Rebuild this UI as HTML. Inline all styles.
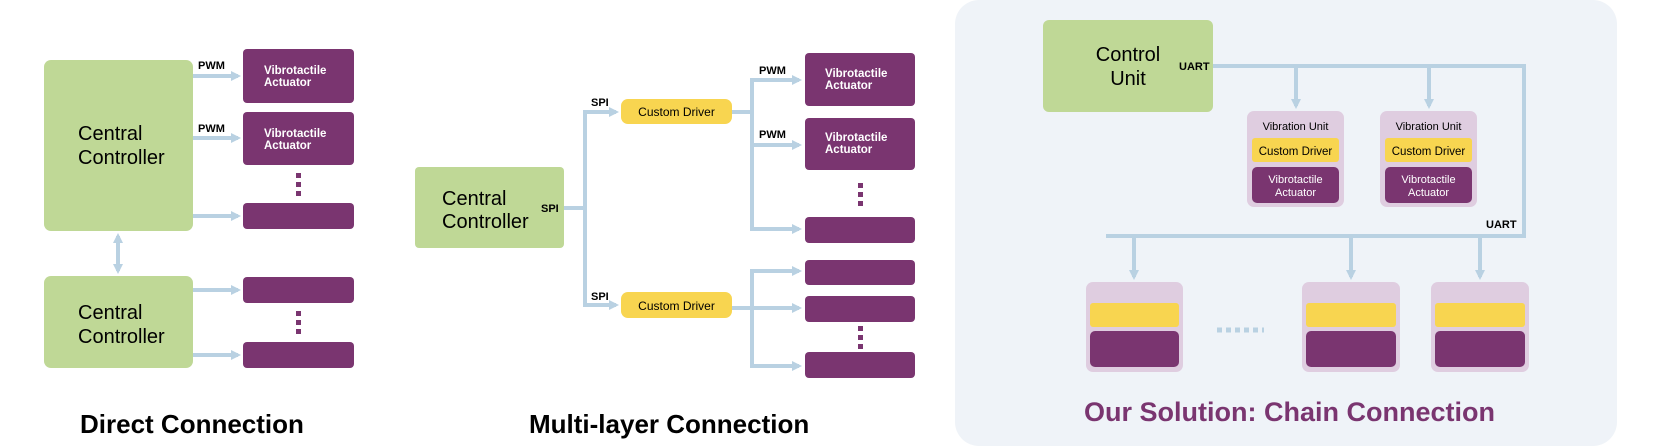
<!DOCTYPE html>
<html><head><meta charset="utf-8"><style>
html,body{margin:0;padding:0;background:#fff}
svg{display:block}
text{font-family:"Liberation Sans",sans-serif}
</style></head><body>
<svg width="1661" height="448" viewBox="0 0 1661 448" xmlns="http://www.w3.org/2000/svg">
<defs>
<marker id="a" markerWidth="8" markerHeight="8" refX="6" refY="4" orient="auto" markerUnits="userSpaceOnUse"><path d="M0,0 L8,4 L0,8 Z" fill="#b9d1e2"/></marker>
<marker id="ab" markerWidth="10" markerHeight="10" refX="7" refY="5" orient="auto-start-reverse" markerUnits="userSpaceOnUse"><path d="M0,0 L10,5 L0,10 Z" fill="#b9d1e2"/></marker>
</defs>
<g stroke="#b9d1e2" stroke-width="4" fill="none">
<!-- direct -->
<line x1="193" y1="76" x2="238" y2="76" marker-end="url(#ab)"/>
<line x1="193" y1="138" x2="238" y2="138" marker-end="url(#ab)"/>
<line x1="193" y1="216" x2="238" y2="216" marker-end="url(#ab)"/>
<line x1="193" y1="290" x2="238" y2="290" marker-end="url(#ab)"/>
<line x1="193" y1="355" x2="238" y2="355" marker-end="url(#ab)"/>
<line x1="118" y1="236" x2="118" y2="271" marker-end="url(#ab)" marker-start="url(#ab)"/>
<!-- multi -->
<polyline points="564,208 585,208"/>
<polyline points="616,112 585,112 585,305 616,305" />
<line x1="600" y1="112" x2="616" y2="112" marker-end="url(#ab)"/>
<line x1="600" y1="305" x2="616" y2="305" marker-end="url(#ab)"/>
<polyline points="732,112 752,112"/>
<polyline points="799,80 752,80 752,229 799,229"/>
<line x1="752" y1="80" x2="799" y2="80" marker-end="url(#ab)"/>
<line x1="752" y1="145" x2="799" y2="145" marker-end="url(#ab)"/>
<line x1="752" y1="229" x2="799" y2="229" marker-end="url(#ab)"/>
<polyline points="732,308 752,308"/>
<polyline points="799,271 752,271 752,366 799,366"/>
<line x1="752" y1="271" x2="799" y2="271" marker-end="url(#ab)"/>
<line x1="752" y1="308" x2="799" y2="308" marker-end="url(#ab)"/>
<line x1="752" y1="366" x2="799" y2="366" marker-end="url(#ab)"/>
</g>
<!-- chain panel -->
<rect x="955" y="0" width="662" height="446" rx="24" fill="#eff3f8"/>
<g stroke="#b9d1e2" stroke-width="4" fill="none">
<polyline points="1213,66 1524,66 1524,236 1106,236"/>
<line x1="1296" y1="66" x2="1296" y2="106" marker-end="url(#ab)"/>
<line x1="1429" y1="66" x2="1429" y2="106" marker-end="url(#ab)"/>
<line x1="1134" y1="236" x2="1134" y2="277" marker-end="url(#ab)"/>
<line x1="1351" y1="236" x2="1351" y2="277" marker-end="url(#ab)"/>
<line x1="1480" y1="236" x2="1480" y2="277" marker-end="url(#ab)"/>
<line x1="1217" y1="330" x2="1264" y2="330" stroke-dasharray="5,4" stroke-width="5"/>
</g>
<!-- direct nodes -->
<rect x="44" y="60" width="149" height="171" rx="7" fill="#bfd896"/>
<text x="78" y="140" font-size="20">Central</text>
<text x="78" y="164" font-size="20">Controller</text>
<rect x="44" y="276" width="149" height="92" rx="7" fill="#bfd896"/>
<text x="78" y="319" font-size="20">Central</text>
<text x="78" y="343" font-size="20">Controller</text>
<g fill="#7a3570">
<rect x="243" y="49" width="111" height="54" rx="4"/>
<rect x="243" y="112" width="111" height="53" rx="4"/>
<rect x="243" y="203" width="111" height="26" rx="4"/>
<rect x="243" y="277" width="111" height="26" rx="4"/>
<rect x="243" y="342" width="111" height="26" rx="4"/>
<rect x="296" y="173" width="5" height="5"/><rect x="296" y="182" width="5" height="5"/><rect x="296" y="191" width="5" height="5"/>
<rect x="296" y="311" width="5" height="5"/><rect x="296" y="320" width="5" height="5"/><rect x="296" y="329" width="5" height="5"/>
</g>
<g fill="#fff" font-size="11.5" font-weight="bold">
<text x="264" y="74">Vibrotactile</text><text x="264" y="86">Actuator</text>
<text x="264" y="137">Vibrotactile</text><text x="264" y="149">Actuator</text>
</g>
<g font-size="11" font-weight="bold" fill="#000">
<text x="198" y="69">PWM</text><text x="198" y="132">PWM</text>
</g>
<text x="80" y="433" font-size="26" font-weight="bold">Direct Connection</text>
<!-- multi nodes -->
<rect x="415" y="167" width="149" height="81" rx="4" fill="#bfd896"/>
<text x="442" y="205" font-size="20">Central</text>
<text x="442" y="228" font-size="20">Controller</text>
<g font-size="11" font-weight="bold" fill="#000">
<text x="541" y="212">SPI</text><text x="591" y="106">SPI</text><text x="591" y="300">SPI</text>
<text x="759" y="74">PWM</text><text x="759" y="138">PWM</text>
</g>
<rect x="621" y="99" width="111" height="25" rx="7" fill="#f8d550"/>
<rect x="621" y="292" width="111" height="26" rx="7" fill="#f8d550"/>
<text x="676.5" y="116" font-size="12" text-anchor="middle">Custom Driver</text>
<text x="676.5" y="310" font-size="12" text-anchor="middle">Custom Driver</text>
<g fill="#7a3570">
<rect x="805" y="53" width="110" height="53" rx="4"/>
<rect x="805" y="118" width="110" height="52" rx="4"/>
<rect x="805" y="217" width="110" height="26" rx="4"/>
<rect x="805" y="260" width="110" height="25" rx="4"/>
<rect x="805" y="296" width="110" height="26" rx="4"/>
<rect x="805" y="352" width="110" height="26" rx="4"/>
<rect x="858" y="183" width="5" height="5"/><rect x="858" y="192" width="5" height="5"/><rect x="858" y="201" width="5" height="5"/>
<rect x="858" y="326" width="5" height="5"/><rect x="858" y="335" width="5" height="5"/><rect x="858" y="344" width="5" height="5"/>
</g>
<g fill="#fff" font-size="11.5" font-weight="bold">
<text x="825" y="77">Vibrotactile</text><text x="825" y="89">Actuator</text>
<text x="825" y="141">Vibrotactile</text><text x="825" y="153">Actuator</text>
</g>
<text x="529" y="433" font-size="26" font-weight="bold">Multi-layer Connection</text>
<!-- chain nodes -->
<rect x="1043" y="20" width="170" height="92" rx="6" fill="#bfd896"/>
<text x="1128" y="61" font-size="20" text-anchor="middle">Control</text>
<text x="1128" y="85" font-size="20" text-anchor="middle">Unit</text>
<g font-size="11" font-weight="bold" fill="#000">
<text x="1179" y="70">UART</text><text x="1486" y="228">UART</text>
</g>
<g>
<rect x="1247" y="111" width="97" height="96" rx="7" fill="#dfcde0"/>
<rect x="1252" y="138" width="87" height="24" rx="3" fill="#f8d550"/>
<rect x="1252" y="167" width="87" height="36" rx="5" fill="#7a3570"/>
<text x="1295.5" y="130" font-size="11" text-anchor="middle">Vibration Unit</text>
<text x="1295.5" y="155" font-size="11.5" text-anchor="middle">Custom Driver</text>
<text x="1295.5" y="183" font-size="11" fill="#fff" text-anchor="middle">Vibrotactile</text>
<text x="1295.5" y="196" font-size="11" fill="#fff" text-anchor="middle">Actuator</text>
</g>
<g>
<rect x="1380" y="111" width="97" height="96" rx="7" fill="#dfcde0"/>
<rect x="1385" y="138" width="87" height="24" rx="3" fill="#f8d550"/>
<rect x="1385" y="167" width="87" height="36" rx="5" fill="#7a3570"/>
<text x="1428.5" y="130" font-size="11" text-anchor="middle">Vibration Unit</text>
<text x="1428.5" y="155" font-size="11.5" text-anchor="middle">Custom Driver</text>
<text x="1428.5" y="183" font-size="11" fill="#fff" text-anchor="middle">Vibrotactile</text>
<text x="1428.5" y="196" font-size="11" fill="#fff" text-anchor="middle">Actuator</text>
</g>
<g>
<rect x="1086" y="282" width="97" height="90" rx="7" fill="#dfcde0"/>
<rect x="1090" y="303" width="89" height="24" rx="3" fill="#f8d550"/>
<rect x="1090" y="331" width="89" height="36" rx="5" fill="#7a3570"/>
<rect x="1302" y="282" width="98" height="90" rx="7" fill="#dfcde0"/>
<rect x="1306" y="303" width="90" height="24" rx="3" fill="#f8d550"/>
<rect x="1306" y="331" width="90" height="36" rx="5" fill="#7a3570"/>
<rect x="1431" y="282" width="98" height="90" rx="7" fill="#dfcde0"/>
<rect x="1435" y="303" width="90" height="24" rx="3" fill="#f8d550"/>
<rect x="1435" y="331" width="90" height="36" rx="5" fill="#7a3570"/>
</g>
<text x="1084" y="421" font-size="27" font-weight="bold" fill="#7a3570">Our Solution: Chain Connection</text>
</svg>
</body></html>
